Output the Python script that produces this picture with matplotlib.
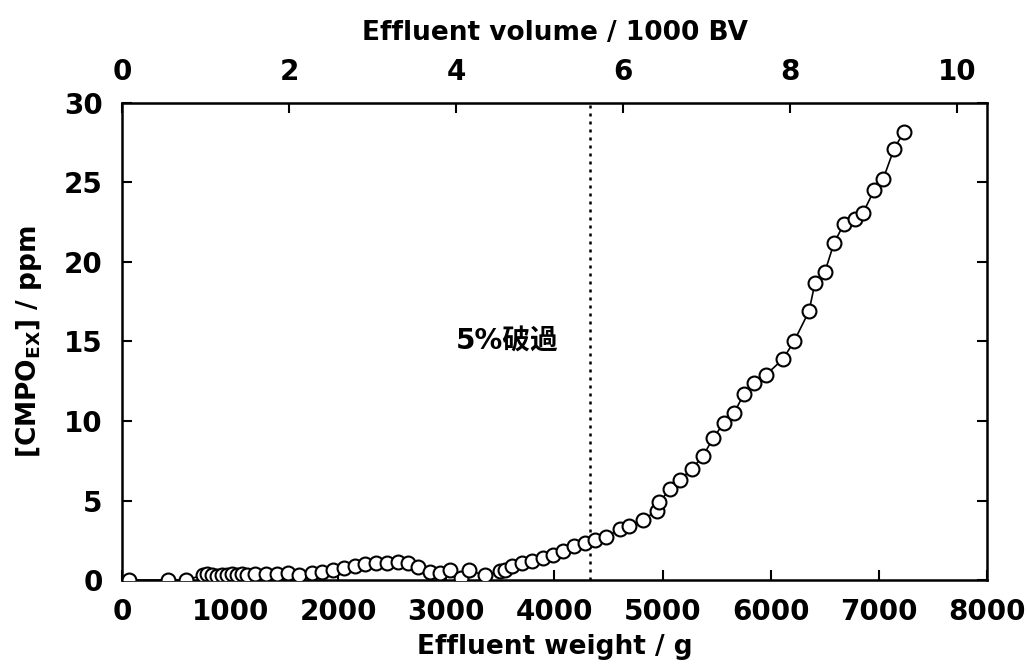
import matplotlib
matplotlib.use("Agg")
import matplotlib.pyplot as plt

plt.rcParams['font.family'] = ['DejaVu Sans', 'Noto Sans CJK JP']
plt.rcParams['mathtext.fontset'] = 'dejavusans'

# Data
weight_g = [65, 425, 590, 750, 790, 835, 880, 925, 970, 1015, 1060, 1110, 1155,
            1230, 1330, 1430, 1535, 1640, 1757, 1850, 1952, 2053, 2155, 2247,
            2349, 2451, 2553, 2645, 2738, 2849, 2941, 3034, 3135, 3209, 3357,
            3496, 3542, 3607, 3700, 3792, 3894, 3986, 4079, 4181, 4282, 4375,
            4477, 4606, 4689, 4819, 4948, 4967, 5069, 5161, 5272, 5374, 5466,
            5568, 5660, 5753, 5845, 5956, 6114, 6215, 6354, 6410, 6502, 6586,
            6678, 6780, 6854, 6956, 7039, 7140, 7233]
cmpo_ppm = [0.0, 0.0, 0.0, 0.3, 0.35, 0.3, 0.25, 0.3, 0.3, 0.35, 0.3, 0.35, 0.3,
            0.35, 0.4, 0.4, 0.45, 0.3, 0.45, 0.5, 0.63, 0.76, 0.88, 1.0,
            1.07, 1.1, 1.14, 1.07, 0.82, 0.5, 0.44, 0.6, 0.15, 0.6, 0.3,
            0.55, 0.65, 0.85, 1.05, 1.2, 1.4, 1.6, 1.85, 2.15, 2.33, 2.52,
            2.71, 3.2, 3.4, 3.8, 4.35, 4.9, 5.7, 6.3, 7.0, 7.8, 8.9,
            9.9, 10.5, 11.7, 12.4, 12.9, 13.9, 15.0, 16.9, 18.7, 19.4, 21.2,
            22.4, 22.7, 23.1, 24.5, 25.2, 27.1, 28.2]

breakthrough_g = 4330
grams_per_1000bv = 772.3
x_ticks = [0, 1000, 2000, 3000, 4000, 5000, 6000, 7000, 8000]
y_ticks = [0, 5, 10, 15, 20, 25, 30]
top_ticks = [0, 2, 4, 6, 8, 10]

fig = plt.figure(figsize=(10.27, 6.64), dpi=100)
ax = fig.add_axes([0.1188, 0.1265, 0.8422, 0.7184])

ax.plot(weight_g, cmpo_ppm, color='black', lw=1.2, marker='o', ms=10,
        mfc='white', mec='black', mew=1.5, zorder=3)
ax.axvline(breakthrough_g, color='black', lw=1.8, ls=(0, (1.2, 2)), zorder=2)

ax.set_xlim(0, 8000)
ax.set_ylim(0, 30)
ax.set_xticks(x_ticks)
ax.set_yticks(y_ticks)

for s in ax.spines.values():
    s.set_linewidth(1.8)

ax.tick_params(axis='both', which='major', direction='in', length=7, width=1.5,
               labelsize=20)
ax.tick_params(axis='x', pad=13)
ax.tick_params(axis='y', pad=14, right=True)
for lab in ax.get_xticklabels() + ax.get_yticklabels():
    lab.set_fontweight('bold')

ax.set_xlabel('Effluent weight / g', fontsize=19, fontweight='bold', labelpad=6)
ax.set_ylabel(r'[CMPO$_\mathbf{EX}$] / ppm', fontsize=19, fontweight='bold',
              labelpad=14)

top = ax.secondary_xaxis('top', functions=(lambda g: g / grams_per_1000bv,
                                           lambda v: v * grams_per_1000bv))
top.set_xticks(top_ticks)
top.tick_params(direction='in', length=7, width=1.5, labelsize=20, pad=12)
for lab in top.get_xticklabels():
    lab.set_fontweight('bold')
top.set_xlabel('Effluent volume / 1000 BV', fontsize=19, fontweight='bold',
               labelpad=13)

ax.text(3561, 15.0, '5%破過', fontsize=20, fontweight='bold',
        ha='center', va='center')

fig.savefig('out.png', dpi=100)
